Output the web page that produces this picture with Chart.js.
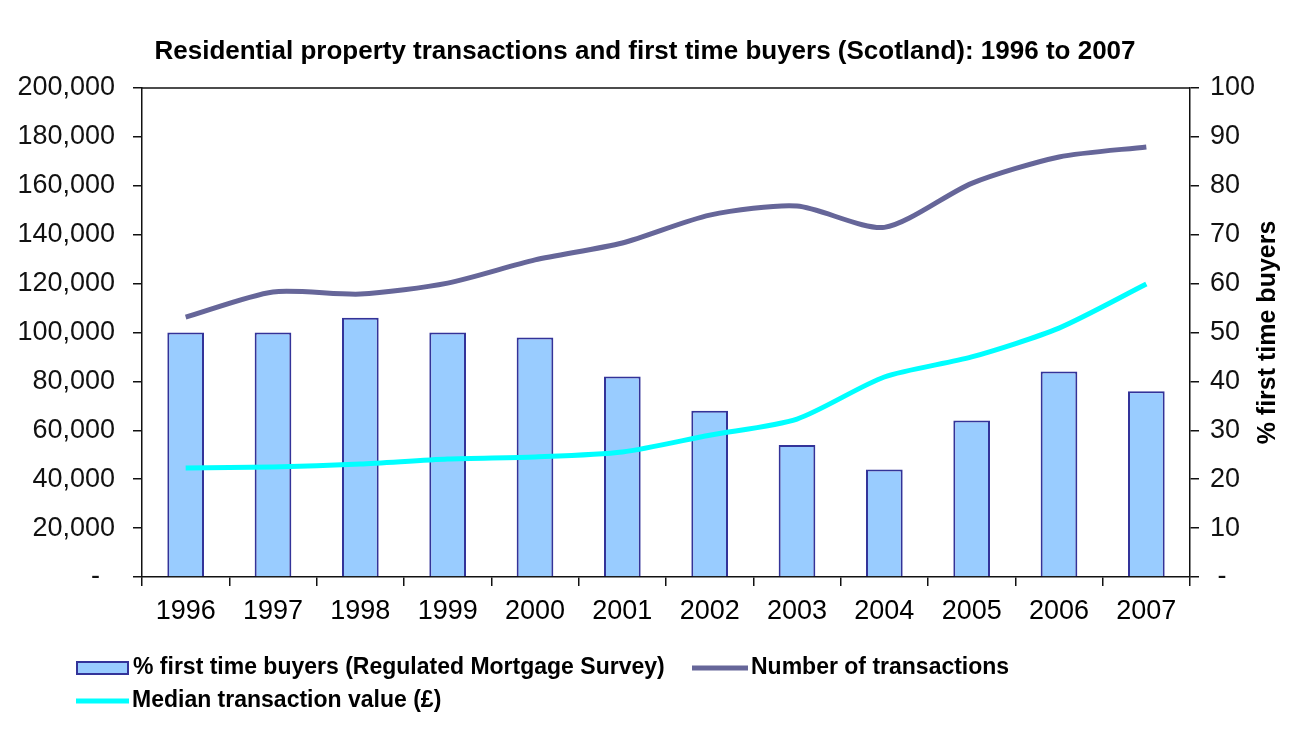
<!DOCTYPE html>
<html>
<head>
<meta charset="utf-8">
<script src="https://cdn.jsdelivr.net/npm/chart.js@4/dist/chart.umd.min.js"></script>
<style>
  html, body { margin: 0; padding: 0; background: #fff; }
  #wrap { width: 1290px; height: 729px; }
</style>
</head>
<body>
<div id="wrap"><canvas id="myChart" width="1290" height="729"></canvas></div>
<script>
// values
const years = ["1996", "1997", "1998", "1999", "2000", "2001", "2002", "2003", "2004", "2005", "2006", "2007"];
const firstTimeBuyersPct = [50, 50, 53, 50, 49, 41, 34, 27, 22, 32, 42, 38];
const transactions = [106300, 116600, 115700, 120200, 129700, 136600, 148000, 151700, 143000, 161000, 171800, 175900];
const medianValue = [44600, 45000, 46200, 48300, 49100, 51100, 58000, 64600, 81800, 90000, 101800, 119800];
const leftTicks = { min: 0, max: 200000, step: 20000 };
const rightTicks = { min: 0, max: 100, step: 10 };

const FONT = '"Liberation Sans", Arial, sans-serif';
const AXIS = "#111";

// frame top line, right axis title and the legend
const extras = {
  id: "extras",
  afterDraw(chart) {
    const ctx = chart.ctx;
    const a = chart.chartArea;
    ctx.save();
    ctx.strokeStyle = AXIS;
    ctx.lineWidth = 1.5;
    ctx.beginPath();
    ctx.moveTo(a.left, a.top);
    ctx.lineTo(a.right, a.top);
    ctx.stroke();

    ctx.save();
    ctx.translate(1268, (a.top + a.bottom) / 2);
    ctx.rotate(-Math.PI / 2);
    ctx.font = "bold 25px " + FONT;
    ctx.fillStyle = "#000";
    ctx.textAlign = "center";
    ctx.textBaseline = "middle";
    ctx.fillText("% first time buyers", 0, 0);
    ctx.restore();

    const ds = chart.data.datasets;
    ctx.font = "bold 23px " + FONT;
    ctx.fillStyle = "#000";
    ctx.textAlign = "left";
    ctx.textBaseline = "middle";

    // bar item
    ctx.fillStyle = ds[0].backgroundColor;
    ctx.fillRect(77, 662, 51, 12);
    ctx.strokeStyle = ds[0].borderColor;
    ctx.lineWidth = 2;
    ctx.strokeRect(77, 662, 51, 12);
    ctx.fillStyle = "#000";
    ctx.fillText(ds[0].label, 133, 668, 537);

    // line items
    ctx.lineWidth = 5;
    ctx.strokeStyle = ds[1].borderColor;
    ctx.beginPath(); ctx.moveTo(692, 668); ctx.lineTo(748, 668); ctx.stroke();
    ctx.fillText(ds[1].label, 751, 668, 262);

    ctx.strokeStyle = ds[2].borderColor;
    ctx.beginPath(); ctx.moveTo(76, 701); ctx.lineTo(129, 701); ctx.stroke();
    ctx.fillText(ds[2].label, 132, 701, 312);
    ctx.restore();
  }
};

const data = {
  labels: years,
  datasets: [
    {
      type: "bar",
      label: "% first time buyers (Regulated Mortgage Survey)",
      data: firstTimeBuyersPct,
      yAxisID: "y1",
      backgroundColor: "#99CCFF",
      borderColor: "#333399",
      borderWidth: 2,
      barPercentage: 0.42,
      categoryPercentage: 1,
      order: 3,
    },
    {
      type: "line",
      label: "Number of transactions",
      data: transactions,
      yAxisID: "y",
      borderColor: "#666699",
      borderWidth: 5,
      pointRadius: 0,
      tension: 0.25,
      order: 1,
    },
    {
      type: "line",
      label: "Median transaction value (£)",
      data: medianValue,
      yAxisID: "y",
      borderColor: "#00FFFF",
      borderWidth: 5,
      pointRadius: 0,
      tension: 0.25,
      order: 2,
    },
  ],
};

const config = {
  data: data,
  options: {
    responsive: false,
    animation: false,
    events: [],
    layout: { padding: { top: 0, bottom: 92, left: 0, right: 0 } },
    scales: {
      x: {
        offset: true,
        grid: {
          offset: true,
          drawOnChartArea: false,
          tickLength: 9,
          color: AXIS,
          lineWidth: 1.5,
        },
        border: { color: AXIS, width: 1.5 },
        ticks: {
          font: { family: FONT, size: 27 },
          color: "#000",
          padding: 9,
          maxRotation: 0,
          autoSkip: false,
        },
        afterFit: (scale) => { scale.height = 60; },
      },
      y: {
        position: "left",
        min: leftTicks.min,
        max: leftTicks.max,
        grid: { drawOnChartArea: false, tickLength: 9, color: AXIS, lineWidth: 1.5 },
        border: { color: AXIS, width: 1.5 },
        ticks: {
          stepSize: leftTicks.step,
          font: { family: FONT, size: 27 },
          color: "#111",
          padding: 18,
          callback: (value) => (value === 0 ? "-  " : value.toLocaleString("en-US")),
        },
        afterFit: (scale) => { scale.width = 142; },
      },
      y1: {
        position: "right",
        min: rightTicks.min,
        max: rightTicks.max,
        grid: { drawOnChartArea: false, tickLength: 9, color: AXIS, lineWidth: 1.5 },
        border: { color: AXIS, width: 1.5 },
        ticks: {
          stepSize: rightTicks.step,
          font: { family: FONT, size: 27 },
          color: "#111",
          padding: 11,
          callback: (value) => (value === 0 ? " -" : String(value)),
        },
        afterFit: (scale) => { scale.width = 100; },
      },
    },
    plugins: {
      legend: { display: false },
      tooltip: { enabled: false },
      title: {
        display: true,
        text: "Residential property transactions and first time buyers (Scotland): 1996 to 2007",
        color: "#000",
        font: { family: FONT, size: 26, weight: "bold" },
        padding: { top: 36, bottom: 20.8 },
      },
    },
  },
  plugins: [extras],
};

const myChart = new Chart(document.getElementById("myChart"), config);
</script>
</body>
</html>
